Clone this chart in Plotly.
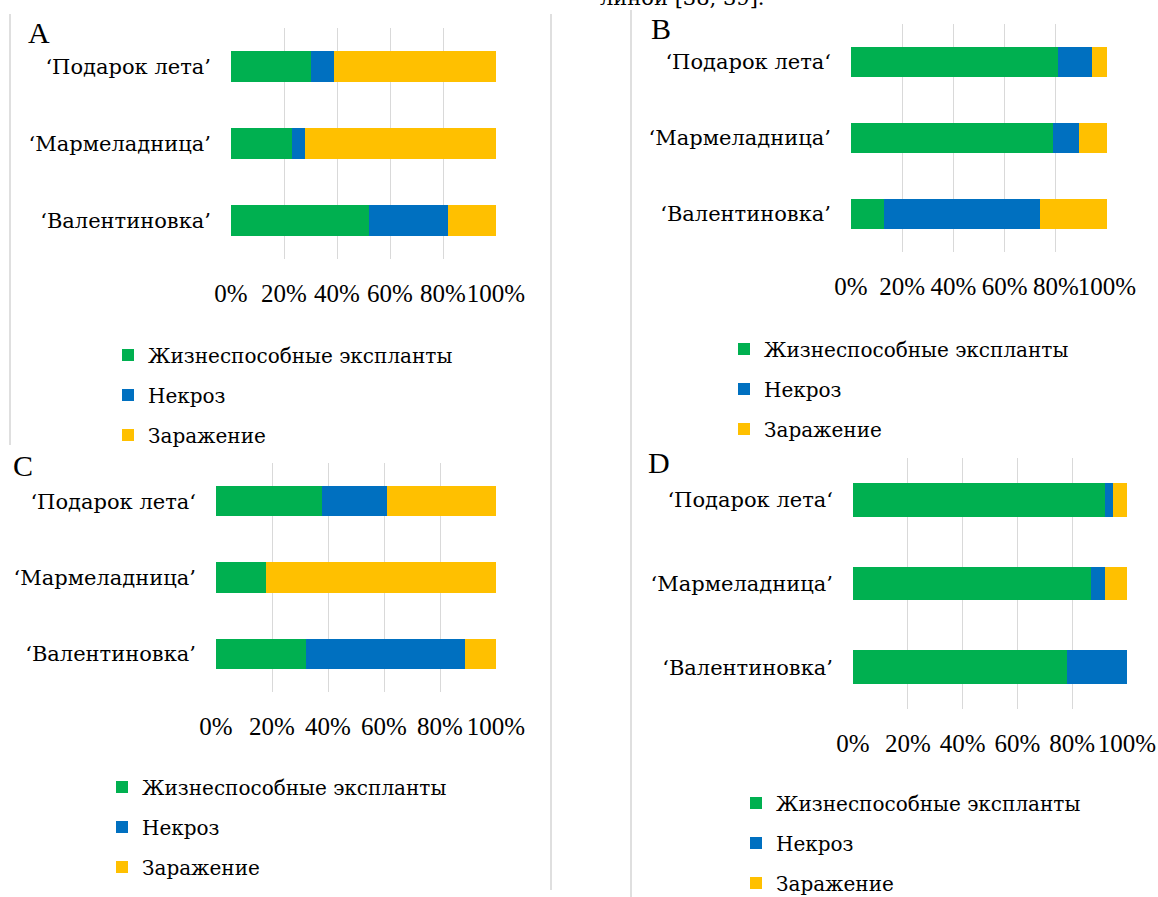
import plotly.graph_objects as go

# Figure size in pixels
W, H = 1158, 897

# Series names and colours
series_names = ["Жизнеспособные экспланты", "Некроз", "Заражение"]
series_colors = ["#00B050", "#0070C0", "#FFC000"]

# Cultivar labels, listed top to bottom
cultivars_A = ["‘Подарок лета’", "‘Мармеладница’", "‘Валентиновка’"]
cultivars_BCD = ["‘Подарок лета‘", "‘Мармеладница’", "‘Валентиновка’"]

# Shares of explants, % (top to bottom: Подарок лета, Мармеладница, Валентиновка)
A_viable = [30, 23, 52]
A_necrosis = [9, 5, 30]
A_infection = [61, 72, 18]

B_viable = [81, 79, 13]
B_necrosis = [13, 10, 61]
B_infection = [6, 11, 26]

C_viable = [38, 18, 32]
C_necrosis = [23, 0, 57]
C_infection = [39, 82, 11]

D_viable = [92, 87, 78]
D_necrosis = [3, 5, 22]
D_infection = [5, 8, 0]

x_ticks = [0, 20, 40, 60, 80, 100]

# Serif face; Cyrillic glyphs come from DejaVu Serif
FONT = "Liberation Serif, DejaVu Serif, serif"
TEXT_FONT = "DejaVu Serif, Liberation Serif, serif"

panels = [
    # letter, cultivars, series, plot box (x0, x1, y0, y1 in px), letter pos, legend (x, middle y)
    ("A", cultivars_A, [A_viable, A_necrosis, A_infection], (231, 496, 28, 259), (39, 32), (108, 395)),
    ("B", cultivars_BCD, [B_viable, B_necrosis, B_infection], (851, 1107, 24, 252), (661, 28), (724, 389)),
    ("C", cultivars_BCD, [C_viable, C_necrosis, C_infection], (216, 496, 463, 692), (23, 465), (102, 827)),
    ("D", cultivars_BCD, [D_viable, D_necrosis, D_infection], (853, 1127, 458, 709), (659, 463), (736, 843)),
]

fig = go.Figure()
layout = {}
annotations = []

for i, (letter, cats, values, box, lpos, legpos) in enumerate(panels):
    n = i + 1
    xa = "x" if n == 1 else f"x{n}"
    ya = "y" if n == 1 else f"y{n}"
    leg = "legend" if n == 1 else f"legend{n}"
    for name, color, vals in zip(series_names, series_colors, values):
        fig.add_trace(go.Bar(
            x=vals, y=cats, orientation="h", name=name,
            marker=dict(color=color, line=dict(width=0)),
            xaxis=xa, yaxis=ya, legend=leg, legendgroup=f"{letter}-{name}",
        ))
    x0, x1, y0, y1 = box
    layout["xaxis" if n == 1 else f"xaxis{n}"] = dict(
        domain=[x0 / W, x1 / W], range=[0, 100], anchor=ya,
        tickvals=x_ticks, ticktext=[f"{v}%" for v in x_ticks], tickangle=0,
        showgrid=True, gridcolor="#D9D9D9", gridwidth=1,
        zeroline=False, showline=False, ticks="", automargin=False,
        tickfont=dict(family=FONT, size=25, color="black"),
        ticklabelstandoff=17, fixedrange=True,
    )
    layout["yaxis" if n == 1 else f"yaxis{n}"] = dict(
        domain=[1 - y1 / H, 1 - y0 / H], anchor=xa,
        autorange="reversed", type="category",
        showgrid=False, zeroline=False, showline=False, ticks="", automargin=False,
        tickfont=dict(family=TEXT_FONT, size=21, color="black"),
        ticklabelstandoff=19, fixedrange=True,
    )
    layout[leg] = dict(
        x=legpos[0] / W, y=1 - legpos[1] / H, xanchor="left", yanchor="middle",
        orientation="v", traceorder="grouped", tracegroupgap=11,
        font=dict(family=TEXT_FONT, size=20, color="black"),
        bgcolor="rgba(0,0,0,0)",
    )
    annotations.append(dict(
        text=letter, x=lpos[0] / W, y=1 - lpos[1] / H, xref="paper", yref="paper",
        xanchor="center", yanchor="middle", showarrow=False,
        font=dict(family=FONT, size=30, color="black"),
    ))

# Tail of the preceding line of text, cut by the top edge
annotations.append(dict(
    text="линой [38, 39].", x=598 / W, y=1 - 12 / H, xref="paper", yref="paper",
    xanchor="left", yanchor="bottom", showarrow=False,
    font=dict(family=TEXT_FONT, size=21, color="black"),
))

# Thin frame lines separating the panels
frame_lines = [
    (10, 14, 10, 445),
    (551, 14, 551, 890),
    (631, 10, 631, 897),
]
shapes = [
    dict(type="line", xref="paper", yref="paper",
         x0=a / W, x1=c / W, y0=1 - b / H, y1=1 - d / H,
         line=dict(color="#BFBFBF", width=1))
    for a, b, c, d in frame_lines
]

fig.update_layout(
    width=W, height=H,
    margin=dict(l=0, r=0, t=0, b=0, autoexpand=False),
    paper_bgcolor="white", plot_bgcolor="white",
    barmode="stack", bargap=0.6,
    annotations=annotations, shapes=shapes,
    **layout,
)

fig.write_html("out.html")
